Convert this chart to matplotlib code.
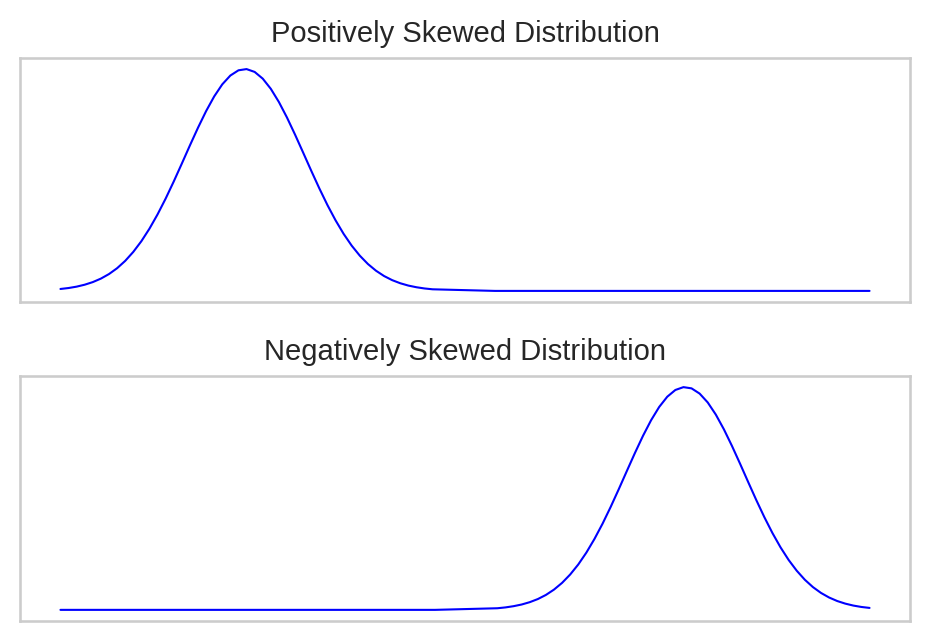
import matplotlib
matplotlib.use("Agg")
import matplotlib.pyplot as plt
import seaborn as sns

sns.set_theme(style="whitegrid")
plt.rcParams['font.family'] = ['Liberation Sans', 'DejaVu Sans']

# Positively skewed curve
pos_x = [0, 1, 2, 3, 4, 5, 6, 7, 8, 9, 10, 11, 12, 13, 14, 15, 16, 17, 18, 19,
         20, 21, 22, 23, 24, 25, 26, 27, 28, 29, 30, 31, 32, 33, 34, 35, 36, 37,
         38, 39, 40, 41, 42, 43, 44, 45, 46, 53.7, 100]
pos_y = [0.0035, 0.0052, 0.0077, 0.0112, 0.0159, 0.0222, 0.0304, 0.0409,
         0.0541, 0.0703, 0.0896, 0.1122, 0.1379, 0.1664, 0.1972, 0.2295,
         0.2623, 0.2942, 0.3241, 0.3506, 0.3724, 0.3883, 0.3977, 0.3999,
         0.3948, 0.3827, 0.3643, 0.3405, 0.3125, 0.2816, 0.2492, 0.2165,
         0.1847, 0.1547, 0.1273, 0.1028, 0.0815, 0.0635, 0.0485, 0.0364,
         0.0268, 0.0194, 0.0138, 0.0096, 0.0066, 0.0044, 0.0029, 0.0, 0.0]

# Negatively skewed curve
neg_x = [0, 46.3, 54, 55, 56, 57, 58, 59, 60, 61, 62, 63, 64, 65, 66, 67, 68,
         69, 70, 71, 72, 73, 74, 75, 76, 77, 78, 79, 80, 81, 82, 83, 84, 85, 86,
         87, 88, 89, 90, 91, 92, 93, 94, 95, 96, 97, 98, 99, 100]
neg_y = [0.0, 0.0, 0.0029, 0.0044, 0.0066, 0.0096, 0.0138, 0.0194, 0.0268,
         0.0364, 0.0485, 0.0635, 0.0815, 0.1028, 0.1273, 0.1547, 0.1847,
         0.2165, 0.2492, 0.2816, 0.3125, 0.3405, 0.3643, 0.3827, 0.3948,
         0.3999, 0.3977, 0.3883, 0.3724, 0.3506, 0.3241, 0.2942, 0.2623,
         0.2295, 0.1972, 0.1664, 0.1379, 0.1122, 0.0896, 0.0703, 0.0541,
         0.0409, 0.0304, 0.0222, 0.0159, 0.0112, 0.0077, 0.0052, 0.0035]

titles = ["Positively Skewed Distribution", "Negatively Skewed Distribution"]

fig = plt.figure(figsize=(929 / 150, 641 / 150), dpi=150)
ax1 = fig.add_axes([20 / 929, 1 - 302 / 641, 890 / 929, 244 / 641])
ax2 = fig.add_axes([20 / 929, 1 - 621 / 641, 890 / 929, 245 / 641])

for ax, xs, ys, t in [(ax1, pos_x, pos_y, titles[0]), (ax2, neg_x, neg_y, titles[1])]:
    ax.plot(xs, ys, color="blue", lw=1.0)
    ax.set_title(t, fontsize=14, color="#262626", pad=7.5)
    ax.set_xticks([])
    ax.set_yticks([])
    ax.grid(False)
    for s in ax.spines.values():
        s.set_color("#cccccc")
        s.set_linewidth(1.25)

fig.savefig("out.png", dpi=150)
